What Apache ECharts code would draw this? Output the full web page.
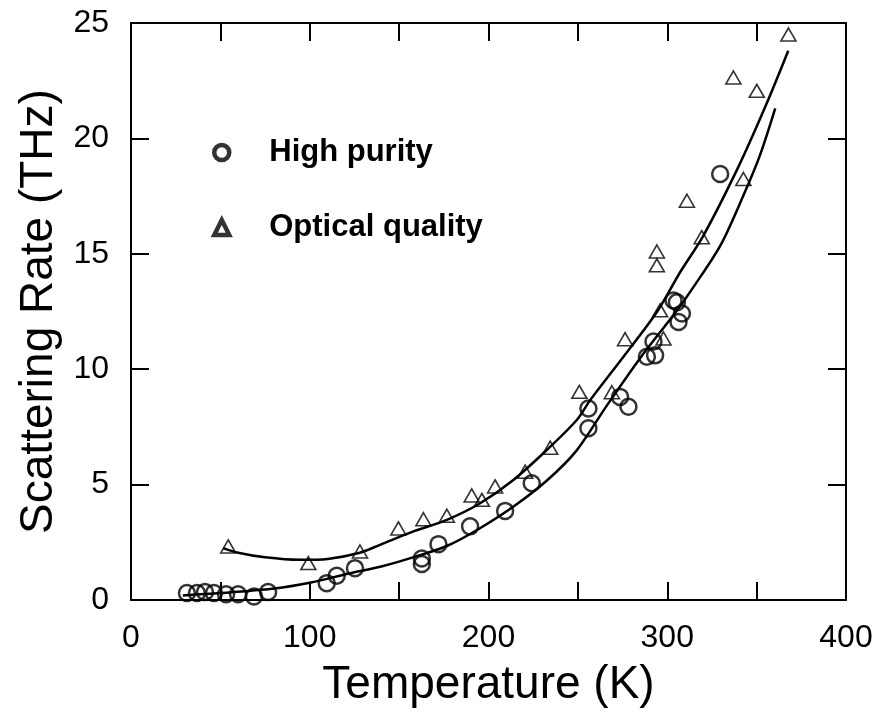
<!DOCTYPE html>
<html>
<head>
<meta charset="utf-8">
<script src="https://cdn.jsdelivr.net/npm/echarts@6/dist/echarts.min.js"></script>
<style>
	html, body { margin: 0; padding: 0; background: #fff; }
	#chart { width: 876px; height: 713px; }
</style>
</head>
<body>
<div id="chart"></div>
<script>
const highPurity = [
	[31.3, 0.3], [36.9, 0.3], [41.4, 0.35], [46.4, 0.3], [53.2, 0.25], [59.9, 0.25],
	[68.8, 0.15], [76.7, 0.35], [109.5, 0.73], [115.1, 1.05], [125.3, 1.38],
	[162.7, 1.8], [162.7, 1.56], [172, 2.42], [189.7, 3.19], [209.3, 3.86], [224.2, 5.06],
	[255.9, 8.3], [255.9, 7.44], [273.6, 8.8], [278.3, 8.37], [288.6, 10.54], [293.2, 10.6],
	[292.3, 11.2], [303.5, 12.98], [305.4, 12.9], [306.3, 12.05], [308.2, 12.41], [329.6, 18.46],
];
const opticalQuality = [
	[54.4, 2.32], [99.2, 1.6], [128.1, 2.1], [149.6, 3.1], [163.6, 3.5], [176.7, 3.65],
	[190.6, 4.53], [196.3, 4.34], [203.7, 4.92], [220.5, 5.56], [234.5, 6.6], [250.8, 9.02],
	[269, 9.0], [276.4, 11.3], [294.2, 15.1], [294.2, 14.5], [296, 12.55], [297.9, 11.33],
	[311, 17.3], [319.3, 15.72], [337, 22.64], [342.6, 18.24], [350.1, 22.06], [367.8, 24.5],
];
// fitted curves
const highPurityFit = [
	[29, 0.2], [50, 0.3], [80, 0.5], [100, 0.75], [122, 1.15], [140, 1.45], [160, 1.9],
	[177, 2.35], [195, 3.1], [214, 4.05], [233, 5.2], [249, 6.45], [266, 8.4], [285, 10.5],
	[305, 12.5], [315, 13.6], [330, 15.4], [343, 17.6], [352, 19.3], [360.4, 21.3],
];
const opticalFit = [
	[51.6, 2.25], [60, 2.05], [75, 1.85], [94.5, 1.74], [110, 1.78], [128, 2.05], [139.3, 2.39],
	[158, 2.97], [176.7, 3.47], [195.3, 4.19], [213.9, 5.2], [232.6, 6.5], [249.4, 7.8],
	[256.9, 8.66], [275.5, 10.54], [294.2, 12.48], [307.2, 14.2], [320.3, 15.8], [340, 18.8],
	[355, 21.4], [367.7, 23.8],
];

const chart = echarts.init(document.getElementById('chart'));

const font = 'Liberation Sans, Arial, sans-serif';
const axisLine = { show: true, onZero: false, lineStyle: { color: '#000', width: 2 } };
const axisTick = { show: true, inside: true, length: 18, lineStyle: { color: '#000', width: 2 } };
const markerStyle = { color: '#fff', borderColor: '#000', borderWidth: 4.5 };

const option = {
	animation: false,
	backgroundColor: '#fff',
	grid: { left: 131, right: 30, top: 23, bottom: 111 },
	legend: {
		orient: 'vertical',
		left: 207,
		top: 132,
		itemGap: 44,
		itemWidth: 15,
		itemHeight: 15,
		textStyle: { fontFamily: font, fontSize: 31, fontWeight: 'bold', color: '#000', padding: [0, 0, 0, 35] },
		data: [
			{ name: 'High purity', icon: 'circle', itemStyle: markerStyle },
			{ name: 'Optical quality', icon: 'triangle', itemStyle: markerStyle },
		],
	},
	xAxis: [
		{
			type: 'value', min: 0, max: 400, interval: 50,
			name: 'Temperature (K)', nameLocation: 'middle', nameGap: 62,
			nameTextStyle: { fontFamily: font, fontSize: 46, color: '#000' },
			axisLine, axisTick, splitLine: { show: false },
			axisLabel: {
				fontFamily: font, fontSize: 32, color: '#000', margin: 22,
				formatter: (v) => (v % 100 === 0 ? String(v) : ''),
			},
		},
		{
			type: 'value', min: 0, max: 400, interval: 50, position: 'top',
			axisLine, axisTick, splitLine: { show: false }, axisLabel: { show: false },
		},
	],
	yAxis: [
		{
			type: 'value', min: 0, max: 25, interval: 5,
			name: 'Scattering Rate (THz)', nameLocation: 'middle', nameGap: 68,
			nameTextStyle: { fontFamily: font, fontSize: 46, color: '#000' },
			axisLine, axisTick, splitLine: { show: false },
			axisLabel: { fontFamily: font, fontSize: 32, color: '#000', margin: 22 },
		},
		{
			type: 'value', min: 0, max: 25, interval: 5, position: 'right',
			axisLine, axisTick, splitLine: { show: false }, axisLabel: { show: false },
		},
	],
	series: [
		{
			type: 'line', data: highPurityFit, smooth: 0.3, symbol: 'none',
			lineStyle: { color: '#000', width: 2.5 }, silent: true,
		},
		{
			type: 'line', data: opticalFit, smooth: 0.3, symbol: 'none',
			lineStyle: { color: '#000', width: 2.5 }, silent: true,
		},
		{
			name: 'High purity', type: 'scatter', data: highPurity,
			symbol: 'circle', symbolSize: 16,
			itemStyle: { color: 'rgba(255,255,255,0)', borderColor: '#000', borderWidth: 2.5 },
		},
		{
			name: 'Optical quality', type: 'scatter', data: opticalQuality,
			symbol: 'triangle', symbolSize: [15, 13],
			itemStyle: { color: 'rgba(255,255,255,0)', borderColor: '#000', borderWidth: 1.6 },
		},
	],
};

chart.setOption(option);
</script>
</body>
</html>
